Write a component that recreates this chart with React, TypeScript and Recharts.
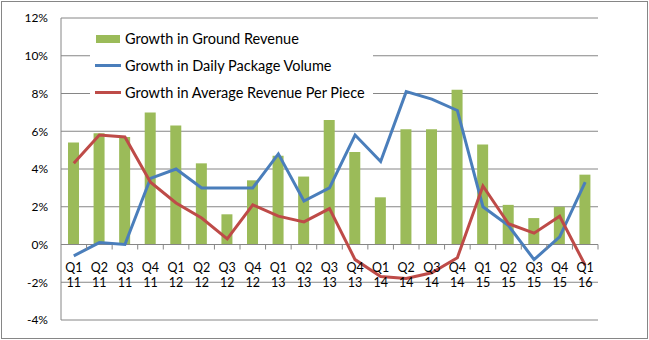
import React from 'react';
import { ComposedChart, Bar, Line, XAxis, YAxis, CartesianGrid, ReferenceLine, Legend } from 'recharts';

const quarters = ['Q1', 'Q2', 'Q3', 'Q4', 'Q1', 'Q2', 'Q3', 'Q4', 'Q1', 'Q2', 'Q3', 'Q4', 'Q1', 'Q2', 'Q3', 'Q4', 'Q1', 'Q2', 'Q3', 'Q4', 'Q1'];
const years = ['11', '11', '11', '11', '12', '12', '12', '12', '13', '13', '13', '13', '14', '14', '14', '14', '15', '15', '15', '15', '16'];
const groundRevenue = [5.4, 5.9, 5.7, 7.0, 6.3, 4.3, 1.6, 3.4, 4.7, 3.6, 6.6, 4.9, 2.5, 6.1, 6.1, 8.2, 5.3, 2.1, 1.4, 2.0, 3.7];
const packageVolume = [-0.6, 0.1, 0.0, 3.5, 4.0, 3.0, 3.0, 3.0, 4.8, 2.3, 3.0, 5.8, 4.4, 8.1, 7.7, 7.1, 2.0, 1.0, -0.8, 0.4, 3.3];
const revenuePerPiece = [4.3, 5.8, 5.7, 3.3, 2.2, 1.4, 0.3, 2.1, 1.5, 1.2, 1.9, -0.8, -1.7, -1.8, -1.5, -0.7, 3.1, 1.1, 0.6, 1.5, -1.1];
const yTicks = [-4, -2, 0, 2, 4, 6, 8, 10, 12];

const series = [
    { key: 'ground', name: 'Growth in Ground Revenue', color: '#9BBB59', kind: 'bar' },
    { key: 'volume', name: 'Growth in Daily Package Volume', color: '#4A7EBB', kind: 'line' },
    { key: 'perPiece', name: 'Growth in Average Revenue Per Piece', color: '#BE4B48', kind: 'line' },
];

const data = quarters.map((q, i) => ({
    label: `${q} ${years[i]}`,
    ground: groundRevenue[i],
    volume: packageVolume[i],
    perPiece: revenuePerPiece[i],
}));

const W = 649;
const H = 340;
const TOP = 18;
const LEFT = 61;
const RIGHT = 51;
const X_AXIS_H = 20;
const PLOT_W = W - LEFT - RIGHT;
const PLOT_H = H - TOP - X_AXIS_H;
const Y_MIN = -4;
const Y_MAX = 12;
const ZERO_Y = TOP + (PLOT_H * Y_MAX) / (Y_MAX - Y_MIN);
const BAND = PLOT_W / quarters.length;
const GRID = '#868686';

// labels sit under the zero line, not at the bottom of the plot
const QuarterTick = (props: any) => {
    const { x, payload, index } = props;
    const i = payload && payload.index != null ? payload.index : index;
    return (
        <g>
            <line x1={x + BAND / 2} x2={x + BAND / 2} y1={ZERO_Y} y2={ZERO_Y + 5} stroke={GRID} />
            <text x={x} y={ZERO_Y + 27.5} textAnchor="middle" fontSize={12.5} fill="#000">{quarters[i]}</text>
            <text x={x} y={ZERO_Y + 42.5} textAnchor="middle" fontSize={12.5} fill="#000">{years[i]}</text>
        </g>
    );
};

const LegendBox = () => (
    <div style={{ width: 283, height: 80, background: '#fff' }}>
        {series.map((s) => (
            <div key={s.key} style={{ display: 'flex', alignItems: 'center', height: 27 }}>
                <div style={{ width: 35, display: 'flex', alignItems: 'center' }}>
                    {s.kind === 'bar' ? (
                        <div style={{ marginLeft: 6, width: 24, height: 8, background: s.color }} />
                    ) : (
                        <div style={{ marginLeft: 5, width: 26, height: 3, background: s.color }} />
                    )}
                </div>
                <span style={{ fontSize: 14.5, color: '#000', whiteSpace: 'nowrap' }}>{s.name}</span>
            </div>
        ))}
    </div>
);

export default function App() {
    return (
        <div style={{ position: 'absolute', left: 0, top: 0, width: W, height: H, background: '#fff', fontFamily: 'Lato, sans-serif' }}>
            <div style={{ position: 'absolute', left: 1, top: 1, width: 647, height: 338, boxSizing: 'border-box', border: `1px solid ${GRID}` }} />
            <ComposedChart width={W} height={H} data={data} margin={{ top: TOP, right: RIGHT, left: 0, bottom: 0 }}>
                <CartesianGrid vertical={false} stroke={GRID} strokeWidth={1} />
                <XAxis dataKey="label" height={X_AXIS_H} axisLine={false} tickLine={false} interval={0} tick={<QuarterTick />} />
                <YAxis
                    width={LEFT}
                    domain={[Y_MIN, Y_MAX]}
                    ticks={yTicks}
                    tickFormatter={(v: number) => `${v}%`}
                    axisLine={{ stroke: GRID }}
                    tickLine={false}
                    tickSize={0}
                    tickMargin={13}
                    tick={{ fill: '#000', fontSize: 12 }}
                />
                <ReferenceLine y={0} stroke={GRID} />
                <Bar dataKey="ground" name={series[0].name} fill={series[0].color} barSize={11} isAnimationActive={false} />
                <Line dataKey="volume" name={series[1].name} stroke={series[1].color} strokeWidth={3} dot={false} type="linear" isAnimationActive={false} />
                <Line dataKey="perPiece" name={series[2].name} stroke={series[2].color} strokeWidth={3} dot={false} type="linear" isAnimationActive={false} />
                <Legend
                    layout="vertical"
                    align="center"
                    verticalAlign="middle"
                    wrapperStyle={{ left: 90, top: 25, width: 283, height: 80 }}
                    content={() => <LegendBox />}
                />
            </ComposedChart>
        </div>
    );
}
